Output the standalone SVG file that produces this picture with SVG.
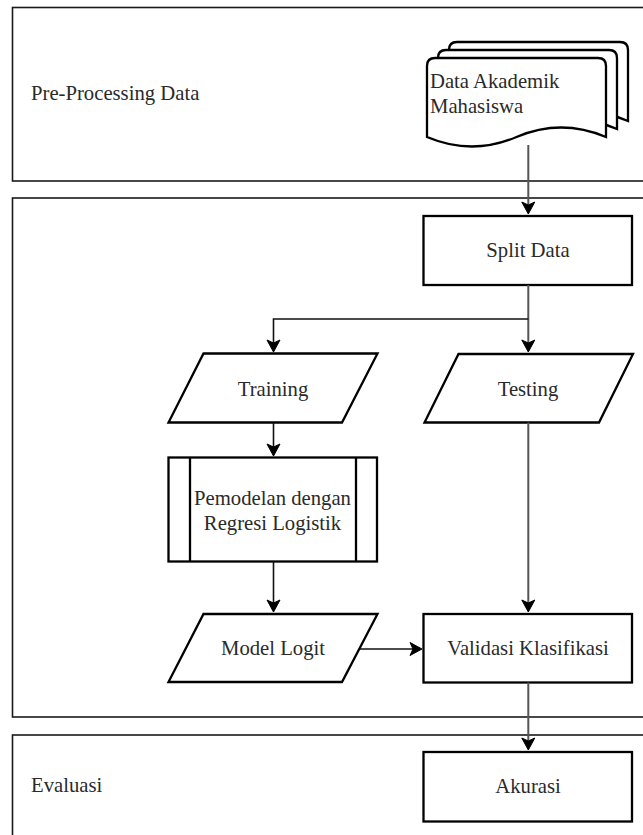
<svg xmlns="http://www.w3.org/2000/svg" width="643" height="835" viewBox="0 0 643 835">
<style>
.lane{fill:#fff;stroke:#1a1a1a;stroke-width:1.6}
.shape{fill:#fff;stroke:#000;stroke-width:2.3}
.txt{font-size:20.7px;fill:#2a2a2a}
.mid{text-anchor:middle}
.conn{fill:none;stroke:#111;stroke-width:1.6}
.grey{stroke:#555;stroke-width:2}
</style>
<defs>
<marker id="arr" markerUnits="userSpaceOnUse" viewBox="-12 -8 16 16" refX="0" refY="0" markerWidth="16" markerHeight="16" orient="auto" overflow="visible">
<path d="M2,0 L-10,-6.5 L-7,0 L-10,6.5 Z" fill="#000" stroke="#000" stroke-width="1"/>
</marker>
</defs>
<g font-family="Liberation Serif, Tinos, Times New Roman, DejaVu Serif, serif">
<g id="lane-preprocessing">
<rect class="lane" x="12.5" y="7.5" width="640" height="173.5"/>
<text class="txt" x="31" y="100">Pre-Processing Data</text>
</g>
<g id="lane-modelling">
<rect class="lane" x="12.5" y="198" width="640" height="519"/>
</g>
<g id="lane-evaluasi">
<rect class="lane" x="12.5" y="735" width="640" height="120"/>
<text class="txt" x="31" y="792">Evaluasi</text>
</g>
<g id="node-data">
<path class="shape" d="M449,113 V50 Q449,42 457,42 H620 Q628,42 628,50 V121 Q583,102 538.5,121 Q494,140 449,121 Z"/>
<path class="shape" d="M438,121 V58 Q438,50 446,50 H609 Q617,50 617,58 V129 Q572,110 527.5,129 Q483,148 438,129 Z"/>
<path class="shape" d="M427,137 V66 Q427,58 435,58 H598 Q606,58 606,66 V137 Q561,118 516.5,137 Q472,156 427,137 Z"/>
<text class="txt" x="430" y="87.5">Data Akademik</text>
<text class="txt" x="430" y="112.5">Mahasiswa</text>
</g>
<g id="node-split">
<rect class="shape" x="423.5" y="216" width="208.5" height="69"/>
<text class="txt mid" x="528" y="257">Split Data</text>
</g>
<g id="node-training">
<path class="shape" d="M203.5,353.5 H377.5 L342,422.5 H168.5 Z"/>
<text class="txt mid" x="273" y="396">Training</text>
</g>
<g id="node-testing">
<path class="shape" d="M458.5,354 H633 L599,422.5 H424.5 Z"/>
<text class="txt mid" x="528" y="396">Testing</text>
</g>
<g id="node-pemodelan">
<rect class="shape" x="168.5" y="457.5" width="208.5" height="104"/>
<line class="shape" x1="190" y1="457.5" x2="190" y2="561.5"/>
<line class="shape" x1="356" y1="457.5" x2="356" y2="561.5"/>
<text class="txt mid" x="272.5" y="505">Pemodelan dengan</text>
<text class="txt mid" x="272.5" y="530">Regresi Logistik</text>
</g>
<g id="node-logit">
<path class="shape" d="M203.5,614 H377.5 L342,682 H168.5 Z"/>
<text class="txt mid" x="273" y="655">Model Logit</text>
</g>
<g id="node-validasi">
<rect class="shape" x="423.5" y="614" width="208.5" height="68.5"/>
<text class="txt mid" x="528" y="655">Validasi Klasifikasi</text>
</g>
<g id="node-akurasi">
<rect class="shape" x="423.5" y="752" width="208.5" height="69.5"/>
<text class="txt mid" x="528" y="793">Akurasi</text>
</g>
</g>
<g id="connectors">
<path class="conn grey" d="M528.3,145 V212" marker-end="url(#arr)"/>
<path class="conn grey" d="M528.3,285 V350" marker-end="url(#arr)"/>
<path class="conn" d="M528.3,319 H273.5 V350" marker-end="url(#arr)"/>
<path class="conn" d="M273.5,422.5 V454" marker-end="url(#arr)"/>
<path class="conn" d="M273.5,561.5 V610" marker-end="url(#arr)"/>
<path class="conn grey" d="M528.3,422.5 V610" marker-end="url(#arr)"/>
<path class="conn" d="M360,649 H420" marker-end="url(#arr)"/>
<path class="conn grey" d="M528.3,682.5 V748" marker-end="url(#arr)"/>
</g>
</svg>
